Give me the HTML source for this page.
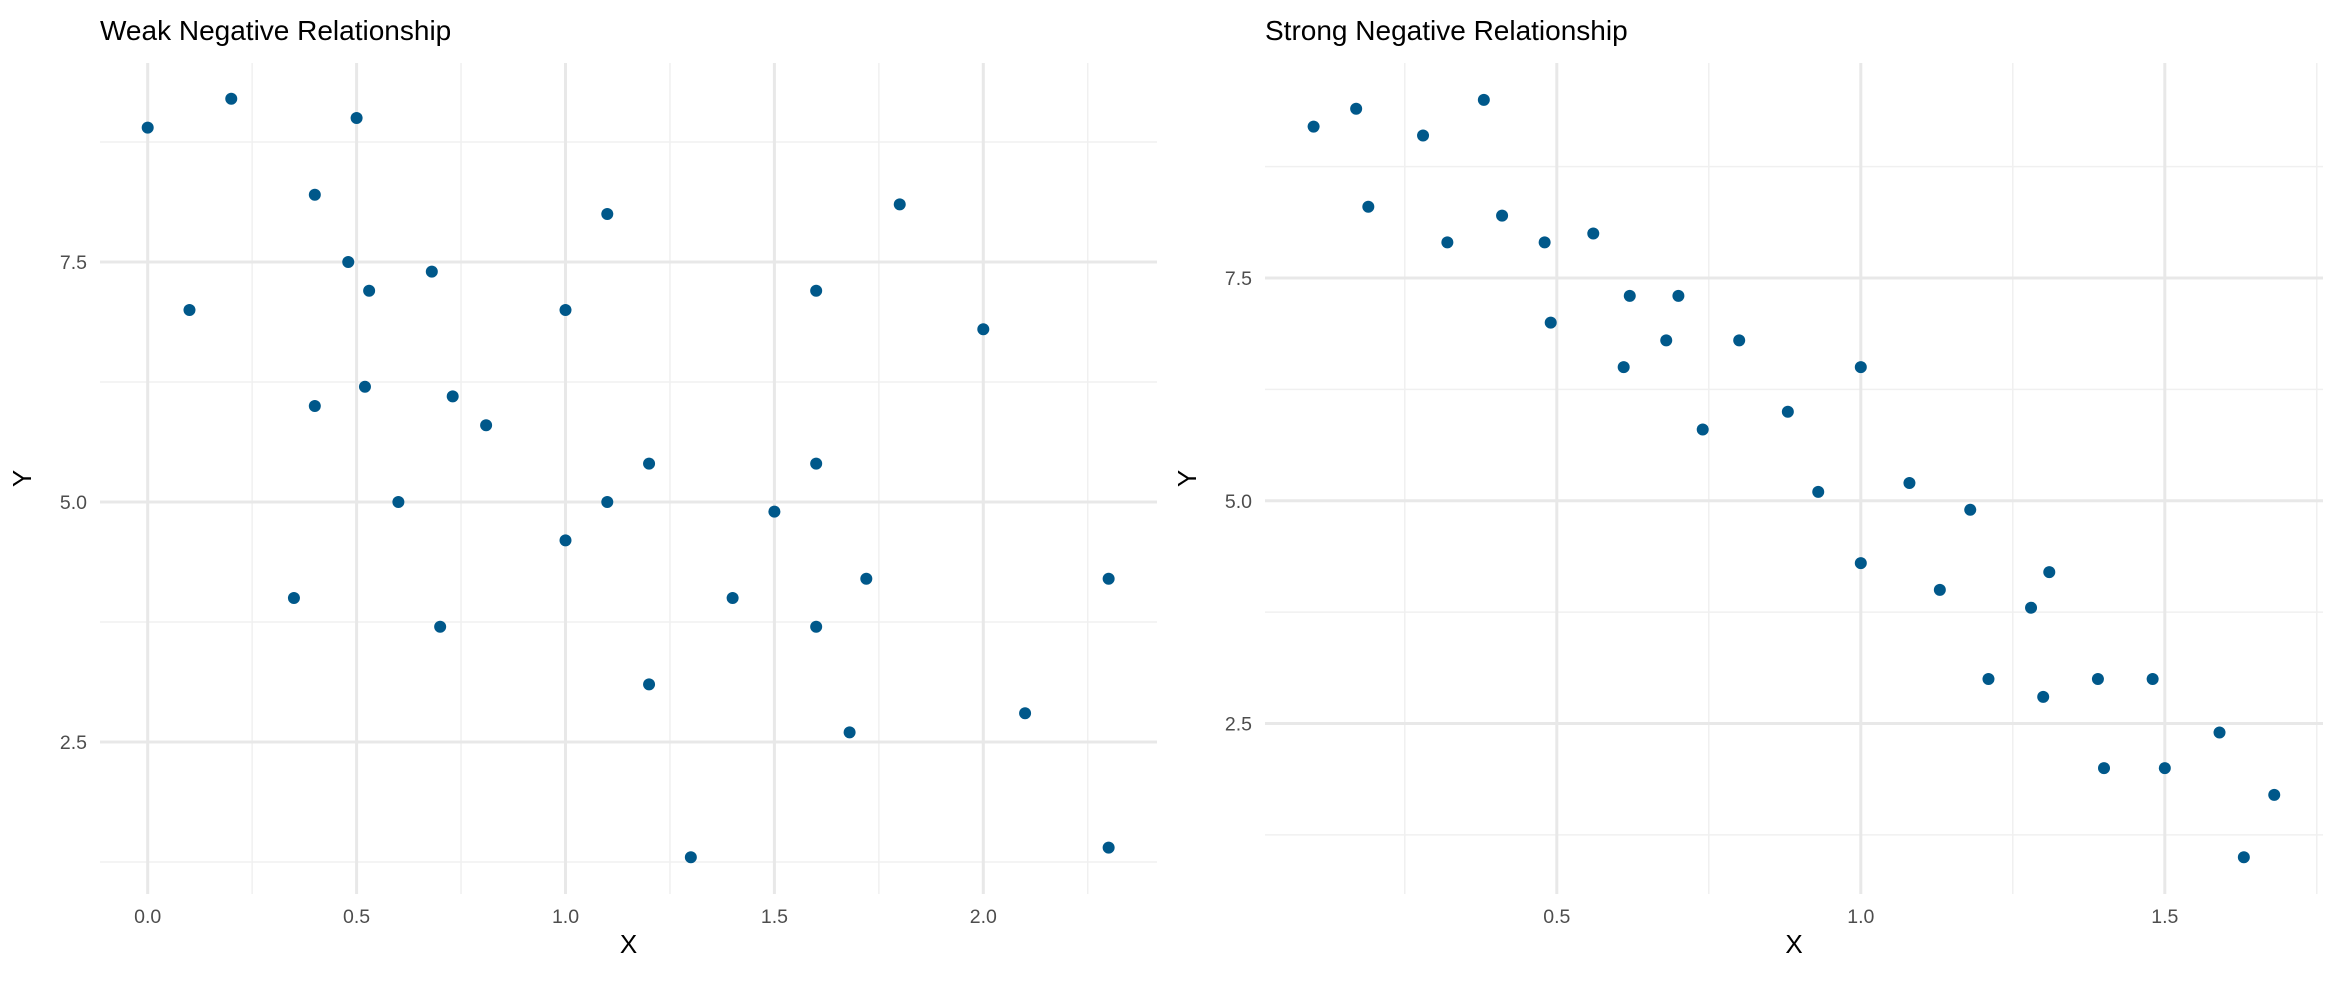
<!DOCTYPE html>
<html><head><meta charset="utf-8"><style>
html,body{margin:0;padding:0;background:#fff;}
svg{display:block;font-family:"Liberation Sans",sans-serif;}
</style></head><body>
<svg id="chart" width="2346" height="984" viewBox="0 0 2346 984"></svg>
<script>
// Left panel data
const weakX = [0,0.1,0.2,0.35,0.4,0.4,0.48,0.5,0.52,0.53,0.6,0.68,0.7,0.73,0.81,1.0,1.0,1.1,1.1,1.2,1.2,1.3,1.4,1.5,1.6,1.6,1.6,1.68,1.72,1.8,2.0,2.1,2.3,2.3];
const weakY = [8.9,7.0,9.2,4.0,8.2,6.0,7.5,9.0,6.2,7.2,5.0,7.4,3.7,6.1,5.8,7.0,4.6,8.0,5.0,5.4,3.1,1.3,4.0,4.9,7.2,5.4,3.7,2.6,4.2,8.1,6.8,2.8,4.2,1.4];
const weakXTicks = [0.0,0.5,1.0,1.5,2.0];
const weakXTickLabels = ["0.0","0.5","1.0","1.5","2.0"];
const weakYTicks = [2.5,5.0,7.5];
const weakYTickLabels = ["2.5","5.0","7.5"];
// Right panel data
const strongX = [0.1,0.17,0.19,0.28,0.32,0.38,0.41,0.48,0.49,0.56,0.61,0.62,0.68,0.7,0.74,0.8,0.88,0.93,1.0,1.0,1.08,1.13,1.18,1.21,1.28,1.3,1.31,1.39,1.4,1.48,1.5,1.59,1.63,1.68];
const strongY = [9.2,9.4,8.3,9.1,7.9,9.5,8.2,7.9,7.0,8.0,6.5,7.3,6.8,7.3,5.8,6.8,6.0,5.1,6.5,4.3,5.2,4.0,4.9,3.0,3.8,2.8,4.2,3.0,2.0,3.0,2.0,2.4,1.0,1.7];
const strongXTicks = [0.5,1.0,1.5];
const strongXTickLabels = ["0.5","1.0","1.5"];
const strongYTicks = [2.5,5.0,7.5];
const strongYTickLabels = ["2.5","5.0","7.5"];

const NS = "http://www.w3.org/2000/svg";
const svg = document.getElementById('chart');
function mk(tag, attrs, parent, text){
  const e = document.createElementNS(NS, tag);
  for (const k in attrs) e.setAttribute(k, attrs[k]);
  if (text !== undefined) e.textContent = text;
  (parent || svg).appendChild(e);
  return e;
}
function panel(cfg){
  const g = mk('g', {});
  
  
  const sx = v => cfg.x0 + (v - cfg.xa) * cfg.xs;
  const sy = v => cfg.y0 - (v - cfg.ya) * cfg.ys;
  // minor grid
  cfg.xMinor.forEach(v => {
    const l = mk('line', {x1:sx(v), x2:sx(v), y1:cfg.top, y2:cfg.bottom, stroke:'#f0f0f0', 'stroke-width':1.5}, g);
    
    
  });
  cfg.yMinor.forEach(v => {
    const l = mk('line', {x1:cfg.left, x2:cfg.right, y1:sy(v), y2:sy(v), stroke:'#f0f0f0', 'stroke-width':1.5}, g);
    
    
  });
  cfg.xTicks.forEach((v, i) => {
    const l = mk('line', {x1:sx(v), x2:sx(v), y1:cfg.top, y2:cfg.bottom, stroke:'#e8e8e8', 'stroke-width':3}, g);
    
    
    const t = mk('text', {x:sx(v), y:cfg.bottom+29, 'text-anchor':'middle', 'font-size':19.5, fill:'#4d4d4d'}, g, cfg.xLabels[i]);
    
    
  });
  cfg.yTicks.forEach((v, i) => {
    const l = mk('line', {x1:cfg.left, x2:cfg.right, y1:sy(v), y2:sy(v), stroke:'#e8e8e8', 'stroke-width':3}, g);
    
    
    const t = mk('text', {x:cfg.left-13, y:sy(v)+7, 'text-anchor':'end', 'font-size':19.5, fill:'#4d4d4d'}, g, cfg.yLabels[i]);
    
    
  });
  cfg.xs_.forEach((v, i) => {
    const c = mk('circle', {cx:sx(v), cy:sy(cfg.ys_[i]), r:6, fill:'#00588a'}, g);
    
    
  });
  const title = mk('text', {x:cfg.left, y:40, 'font-size':28, fill:'#000'}, g, cfg.title);
  
  
  const xt = mk('text', {x:(cfg.left+cfg.right)/2, y:953, 'text-anchor':'middle', 'font-size':26, fill:'#000'}, g, 'X');
  
  
  const yx = cfg.left - 69, yy = (cfg.top+cfg.bottom)/2;
  const yt = mk('text', {x:yx, y:yy, 'text-anchor':'middle', 'font-size':26, fill:'#000', transform:'rotate(-90 '+yx+' '+yy+')'}, g, 'Y');
  
  
}
panel({name:'weak-relationship-panel', title:'Weak Negative Relationship',
  left:100, right:1157, top:63, bottom:894,
  x0:147.7, xa:0, xs:417.8, y0:502, ya:5, ys:96,
  xTicks:weakXTicks, xLabels:weakXTickLabels, yTicks:weakYTicks, yLabels:weakYTickLabels,
  xMinor:[0.25,0.75,1.25,1.75,2.25], yMinor:[1.25,3.75,6.25,8.75],
  xs_:weakX, ys_:weakY});
panel({name:'strong-relationship-panel', title:'Strong Negative Relationship',
  left:1265, right:2323, top:63, bottom:894,
  x0:1860.8, xa:1, xs:608, y0:500.8, ya:5, ys:89.1,
  xTicks:strongXTicks, xLabels:strongXTickLabels, yTicks:strongYTicks, yLabels:strongYTickLabels,
  xMinor:[0.25,0.75,1.25,1.75], yMinor:[1.25,3.75,6.25,8.75],
  xs_:strongX, ys_:strongY});
</script>
</body></html>
